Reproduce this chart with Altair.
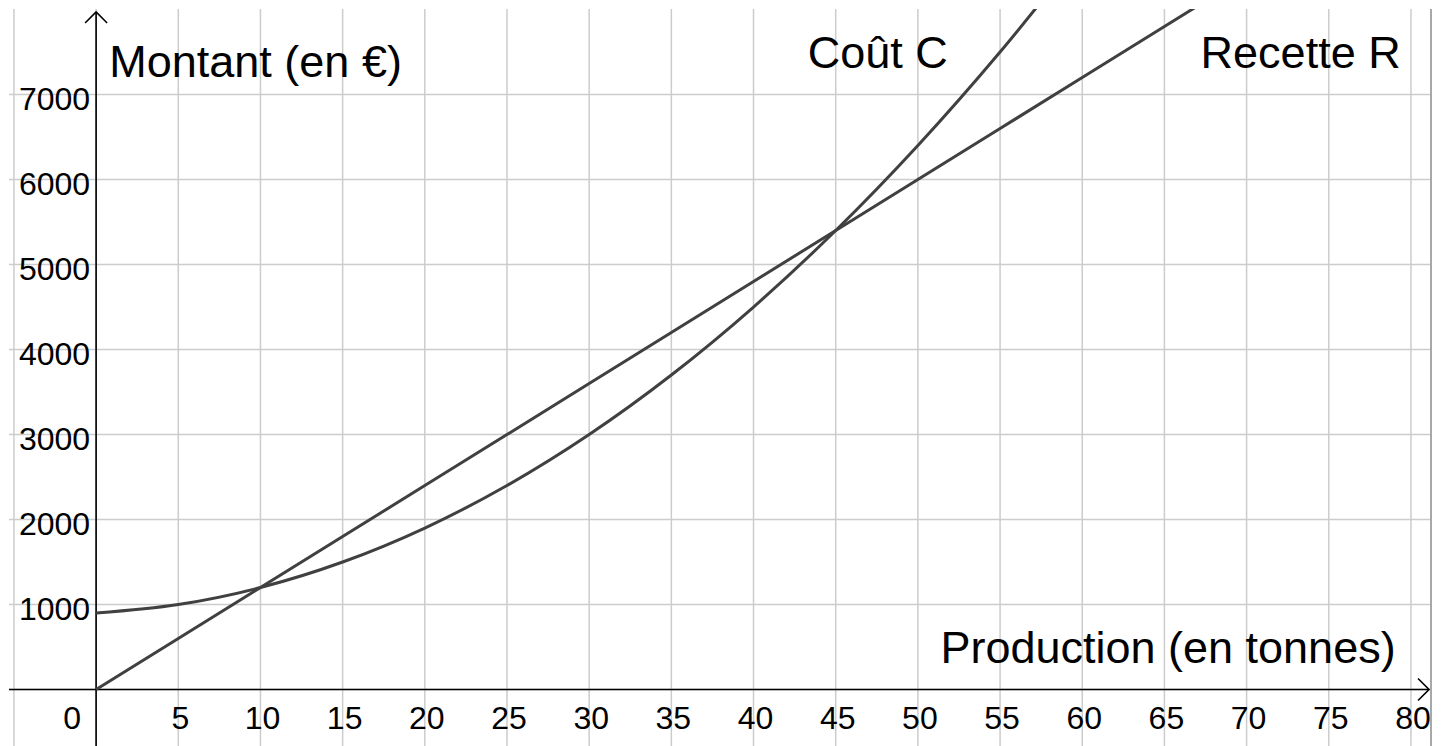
import altair as alt
import pandas as pd

# ---- visible window (data units) ----
X_MIN, X_MAX = -5.3, 81.22
Y_MIN, Y_MAX = -676, 8006
X_ARROW = 81.1      # tip of the x-axis arrow
Y_ARROW = 7971      # tip of the y-axis arrow

# ---- grid & tick labels ----
grid_x = [-5, 0, 5, 10, 15, 20, 25, 30, 35, 40, 45, 50, 55, 60, 65, 70, 75, 80]
grid_y = [0, 1000, 2000, 3000, 4000, 5000, 6000, 7000]
x_tick_labels = [5, 10, 15, 20, 25, 30, 35, 40, 45, 50, 55, 60, 65, 70, 75, 80]
y_tick_labels = [1000, 2000, 3000, 4000, 5000, 6000, 7000]

# ---- curves ----
cout_x = [0, 5, 10, 15, 20, 25, 30, 35, 40, 45, 50, 55, 60]
cout_y = [900, 1000, 1200, 1500, 1900, 2400, 3000, 3700, 4500, 5400, 6400, 7500, 8700]
rec_x = [0, 5, 10, 15, 20, 25, 30, 35, 40, 45, 50, 55, 60, 65, 70]
rec_y = [0, 600, 1200, 1800, 2400, 3000, 3600, 4200, 4800, 5400, 6000, 6600, 7200, 7800, 8400]

# ---- annotations ----
ann_text = ["Montant (en €)", "Coût C", "Recette R"]
ann_x = [0.8, 43.3, 67.2]
ann_y = [7210, 7310, 7310]
prod_label = "Production (en tonnes)"
prod_x, prod_y = 79.07, 312

FONT = "Liberation Sans"
CURVE = "#404040"
GRID = "#cccccc"

xs = alt.Scale(domain=[X_MIN, X_MAX], nice=False, zero=False)
ys = alt.Scale(domain=[Y_MIN, Y_MAX], nice=False, zero=False)


def X(f="x"):
    return alt.X(f"{f}:Q", scale=xs, axis=None)


def Y(f="y"):
    return alt.Y(f"{f}:Q", scale=ys, axis=None)


vgrid = alt.Chart(pd.DataFrame({"x": grid_x})).mark_rule(
    color=GRID, strokeWidth=1.5).encode(x=X())
hgrid = alt.Chart(pd.DataFrame({"y": grid_y})).mark_rule(
    color=GRID, strokeWidth=1.5).encode(y=Y())

border = alt.Chart(pd.DataFrame({"x": [X_MAX]})).mark_rule(
    color="#a8a8a8", strokeWidth=2).encode(x=X())

xaxis = alt.Chart(pd.DataFrame({"x": [X_MIN], "x2": [X_ARROW], "y": [0]})).mark_rule(
    color="black", strokeWidth=1.6).encode(x=X(), x2="x2:Q", y=Y())
yaxis = alt.Chart(pd.DataFrame({"x": [0], "y": [Y_MIN], "y2": [Y_ARROW]})).mark_rule(
    color="black", strokeWidth=1.6).encode(x=X(), y=Y(), y2="y2:Q")

xarrow = alt.Chart(pd.DataFrame({"x": [X_ARROW], "y": [0]})).mark_point(
    shape="M -1 -1 L 0 0 L -1 1", size=484, filled=False, stroke="black",
    strokeWidth=1.6, opacity=1).encode(x=X(), y=Y())
yarrow = alt.Chart(pd.DataFrame({"x": [0], "y": [Y_ARROW]})).mark_point(
    shape="M -1 1 L 0 0 L 1 1", size=484, filled=False, stroke="black",
    strokeWidth=1.6, opacity=1).encode(x=X(), y=Y())

cout = alt.Chart(pd.DataFrame({"x": cout_x, "y": cout_y})).mark_line(
    color=CURVE, strokeWidth=3, interpolate="monotone", clip=True).encode(x=X(), y=Y())
recette = alt.Chart(pd.DataFrame({"x": rec_x, "y": rec_y})).mark_line(
    color=CURVE, strokeWidth=3, clip=True).encode(x=X(), y=Y())

xlabels = alt.Chart(pd.DataFrame({"x": x_tick_labels, "y": [0] * len(x_tick_labels)})).mark_text(
    font=FONT, fontSize=32, color="black", align="center", baseline="alphabetic",
    dx=2, dy=39.5).encode(x=X(), y=Y(), text="x:Q")
zero_label = alt.Chart(pd.DataFrame({"x": [0], "y": [0], "t": ["0"]})).mark_text(
    font=FONT, fontSize=32, color="black", align="right", baseline="alphabetic",
    dx=-15, dy=39.5).encode(x=X(), y=Y(), text="t:N")
ylabels = alt.Chart(pd.DataFrame({"x": [0] * len(y_tick_labels), "y": y_tick_labels})).mark_text(
    font=FONT, fontSize=32, color="black", align="right", baseline="alphabetic",
    dx=-6, dy=15.5).encode(x=X(), y=Y(), text="y:Q")

ann = alt.Chart(pd.DataFrame({"x": ann_x, "y": ann_y, "t": ann_text})).mark_text(
    font=FONT, fontSize=45, color="black", align="left", baseline="alphabetic").encode(
    x=X(), y=Y(), text="t:N")
prod = alt.Chart(pd.DataFrame({"x": [prod_x], "y": [prod_y], "t": [prod_label]})).mark_text(
    font=FONT, fontSize=45, color="black", align="right", baseline="alphabetic").encode(
    x=X(), y=Y(), text="t:N")

chart = alt.layer(
    vgrid, hgrid, border, xaxis, yaxis, xarrow, yarrow, cout, recette,
    xlabels, zero_label, ylabels, ann, prod
).properties(width=1422, height=738, padding=0, background="white").configure_view(stroke=None)

chart.save("out.html", embed_options={"renderer": "svg", "actions": False})
